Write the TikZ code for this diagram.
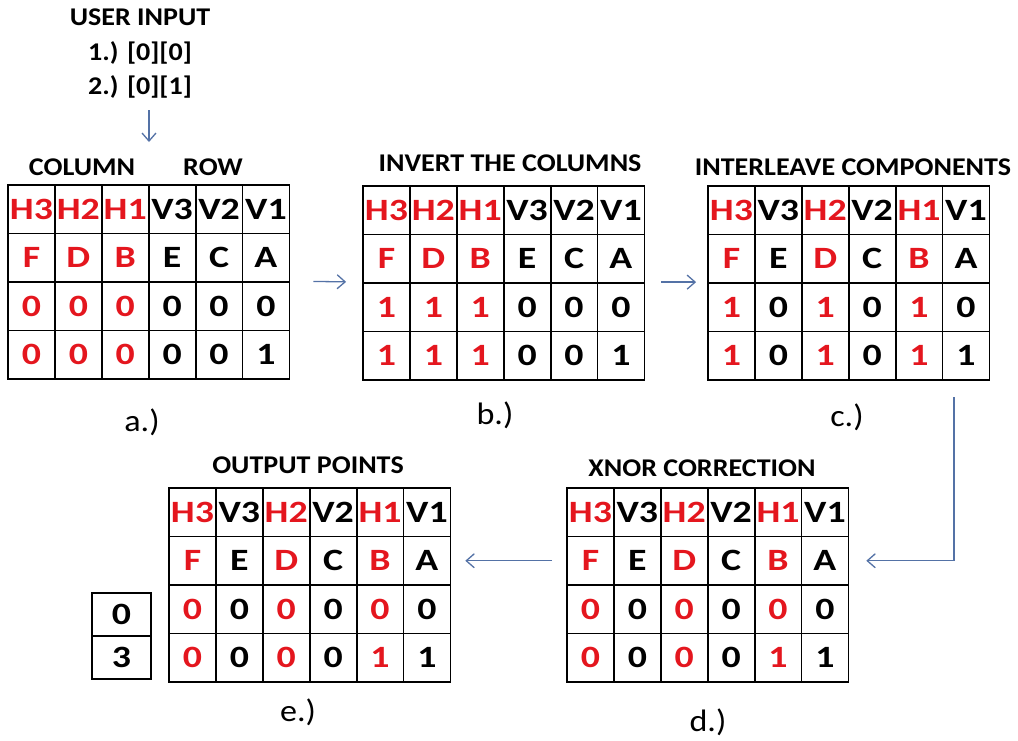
\documentclass[tikz,border=0pt]{standalone}
\usepackage{fontspec}
\setmainfont{Carlito}[FakeStretch=1.1]
\newfontfamily\cellfont{Carlito}[FakeStretch=1.22]
\usetikzlibrary{arrows.meta}
\definecolor{cellred}{RGB}{228,22,30}
\definecolor{flowblue}{RGB}{84,114,166}
\newcommand\rd[1]{\textcolor{cellred}{#1}}
\tikzset{
  cell/.style={draw, line width=1.8pt, minimum width=46.9pt, minimum height=48.5pt,
    inner sep=0pt, font=\cellfont\bfseries\fontsize{31}{31}\selectfont},
  smallcell/.style={cell, minimum width=59pt, minimum height=43pt},
  title/.style={font=\bfseries\fontsize{25.5}{25.5}\selectfont, inner sep=0pt},
  caption/.style={font=\fontsize{31}{31}\selectfont, inner sep=0pt},
  flow/.style={draw=flowblue, line width=1.3pt, -{Straight Barb[length=8pt,width=14pt]}},
}
% one table: name, left x, top y, four rows of cell entries
\newcommand\datatable[7]{%
  \foreach \rowlist [count=\r] in {{#4},{#5},{#6},{#7}}{%
    \foreach \t [count=\c] in \rowlist {%
      \node[cell] (#1-\r-\c) at ({#2+(\c-0.5)*46.9},{#3+(\r-0.5)*48.5}) {\t};
    }%
  }%
}
\begin{document}
\begin{tikzpicture}[x=1pt,y=-1pt]
\useasboundingbox (0,0) rectangle (1018,740);

% user input
\node[title] (ui) at (140,17) {USER INPUT};
\node[title] (ui1) at (140,53) {1.) [0][0]};
\node[title] (ui2) at (140,87) {2.) [0][1]};
\coordinate (in-from) at (149,110);
\coordinate (in-to) at (149,142);
\draw[flow] (in-from) -- (in-to);

% a.) initial table
\node[title] (colhead) at (82,167) {COLUMN};
\node[title] (rowhead) at (213,167) {ROW};
\datatable{a}{8}{185}%
  {\rd{H3},\rd{H2},\rd{H1},V3,V2,V1}%
  {\rd{F},\rd{D},\rd{B},E,C,A}%
  {\rd{0},\rd{0},\rd{0},0,0,0}%
  {\rd{0},\rd{0},\rd{0},0,0,1}
\node[caption] (la) at (142,422) {a.)};

% b.) inverted columns
\node[title] (tb) at (510,163) {INVERT THE COLUMNS};
\datatable{b}{363}{186}%
  {\rd{H3},\rd{H2},\rd{H1},V3,V2,V1}%
  {\rd{F},\rd{D},\rd{B},E,C,A}%
  {\rd{1},\rd{1},\rd{1},0,0,0}%
  {\rd{1},\rd{1},\rd{1},0,0,1}
\node[caption] (lb) at (495,415) {b.)};

% c.) interleaved
\node[title] (tc) at (853,167) {INTERLEAVE COMPONENTS};
\datatable{c}{708}{186}%
  {\rd{H3},V3,\rd{H2},V2,\rd{H1},V1}%
  {\rd{F},E,\rd{D},C,\rd{B},A}%
  {\rd{1},0,\rd{1},0,\rd{1},0}%
  {\rd{1},0,\rd{1},0,\rd{1},1}
\node[caption] (lc) at (847,417) {c.)};

% d.) xnor correction
\node[title] (td) at (702,468) {XNOR CORRECTION};
\datatable{d}{567}{488}%
  {\rd{H3},V3,\rd{H2},V2,\rd{H1},V1}%
  {\rd{F},E,\rd{D},C,\rd{B},A}%
  {\rd{0},0,\rd{0},0,\rd{0},0}%
  {\rd{0},0,\rd{0},0,\rd{1},1}
\node[caption] (ld) at (708,722) {d.)};

% e.) output points
\node[title] (te) at (308,465) {OUTPUT POINTS};
\datatable{e}{169}{488}%
  {\rd{H3},V3,\rd{H2},V2,\rd{H1},V1}%
  {\rd{F},E,\rd{D},C,\rd{B},A}%
  {\rd{0},0,\rd{0},0,\rd{0},0}%
  {\rd{0},0,\rd{0},0,\rd{1},1}
\node[caption] (le) at (298,712) {e.)};
\node[smallcell] (out1) at (121.5,614.5) {0};
\node[smallcell] (out2) at (121.5,657.5) {3};

% flow between the stages
\draw[flow, shorten <=23pt, shorten >=16pt] (a-3-6.north east) -- (b-3-1.north west);
\draw[flow, shorten <=16pt, shorten >=11pt] (b-3-6.north east) -- (c-3-1.north west);
\coordinate (c-out) at (954,397);
\draw[flow, shorten >=17pt] (c-out) |- (d-2-6.east);
\draw[flow, shorten <=14pt, shorten >=14pt] (d-2-1.west) -- (e-2-6.east);
\end{tikzpicture}
\end{document}
